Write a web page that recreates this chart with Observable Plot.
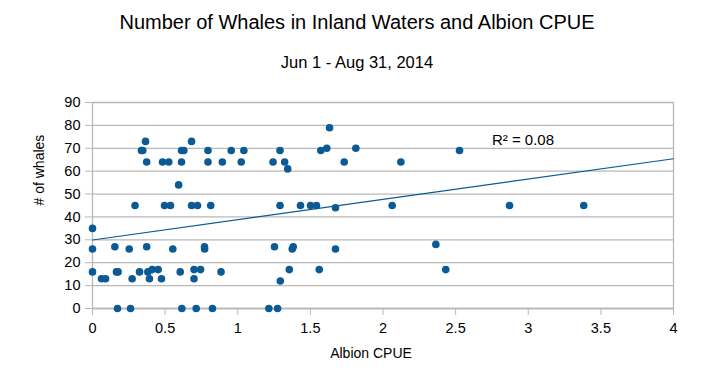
<!DOCTYPE html>
<html><head><meta charset="utf-8">
<script src="https://cdn.jsdelivr.net/npm/d3@7"></script>
<script src="https://cdn.jsdelivr.net/npm/@observablehq/plot@0.6"></script>
<style>
body{margin:0;background:#fff;font-family:"Liberation Sans",Arial,sans-serif;color:#000;}
#wrap{position:relative;width:714px;height:392px;overflow:hidden;}
#head{height:80px;position:relative;}
#title{position:absolute;top:10px;left:0;width:714px;text-align:center;font-size:20px;line-height:24px;}
#sub{position:absolute;top:52px;left:0;width:714px;text-align:center;font-size:16.5px;line-height:20px;}
#chart svg{display:block;}
</style></head>
<body>
<div id="wrap">
  <div id="head"><div id="title"></div><div id="sub"></div></div>
  <div id="chart"></div>
</div>
<script>
const title = "Number of Whales in Inland Waters and Albion CPUE";
const subtitle = "Jun 1 - Aug 31, 2014";
const xLabel = "Albion CPUE";
const yLabel = "# of whales";

const cpue = [0.00,0.00,0.00,0.062,0.09,0.154,0.165,0.176,0.172,0.253,0.262,0.273,0.293,0.324,0.337,0.346,0.365,0.373,0.373,0.381,0.392,0.411,0.452,0.475,0.482,0.496,0.525,0.537,0.553,0.593,0.604,0.613,0.629,0.613,0.615,0.682,0.682,0.699,0.699,0.714,0.723,0.744,0.771,0.772,0.795,0.795,0.814,0.826,0.885,0.894,0.955,1.024,1.042,1.214,1.243,1.253,1.274,1.291,1.291,1.293,1.323,1.344,1.355,1.375,1.382,1.432,1.501,1.542,1.561,1.572,1.613,1.632,1.673,1.673,1.733,1.813,2.063,2.123,2.364,2.432,2.527,2.871,3.382];
const whales = [35,26,16,13,13,27,16,16,0,26,0,13,45,16,69,69,73,64,27,16,13,17,17,13,64,45,64,45,26,54,16,69,69,64,0,73,45,17,13,0,45,17,27,26,69,64,45,0,16,64,69,64,69,0,64,27,0,69,45,12,64,61,17,26,27,45,45,45,17,69,70,79,44,26,64,70,45,64,28,17,69,45,45];

const xTicks = [0,0.5,1,1.5,2,2.5,3,3.5,4];
const yTicks = [0,10,20,30,40,50,60,70,80,90];
const annotation = [{x: 2.75, y: 73.5, text: "R² = 0.08"}];

document.getElementById("title").textContent = title;
document.getElementById("sub").textContent = subtitle;

const data = cpue.map((c, i) => ({cpue: c, whales: whales[i]}));

// least-squares trend line over the axis range
const mx = d3.mean(cpue), my = d3.mean(whales);
const sxy = d3.sum(data, d => (d.cpue - mx) * (d.whales - my));
const sxx = d3.sum(data, d => (d.cpue - mx) ** 2);
const slope = sxy / sxx, intercept = my - slope * mx;
const xExt = [xTicks[0], xTicks[xTicks.length - 1]];
const trend = xExt.map(x => ({cpue: x, whales: intercept + slope * x}));

const blue = "#0b5a94";
const grid = "#b8b8b8";

const chart = Plot.plot({
  width: 714,
  height: 312,
  marginTop: 22,
  marginBottom: 84,
  marginLeft: 92,
  marginRight: 41,
  style: {fontFamily: "'Liberation Sans', Arial, sans-serif", fontSize: "14px", color: "#000", background: "#fff"},
  x: {domain: [0, 4]},
  y: {domain: [0, 90]},
  marks: [
    Plot.gridY(yTicks, {stroke: grid, strokeOpacity: 1, strokeWidth: 1.3}),
    Plot.axisY(yTicks, {tickSize: 7, tickPadding: 5, stroke: grid, fill: "#000", label: null, tickFormat: d => String(d), fontSize: 14.5}),
    Plot.axisX(xTicks, {tickSize: 7, tickPadding: 7, stroke: grid, fill: "#000", label: null, tickFormat: d => String(d), fontSize: 14.5}),
    Plot.ruleX([0, 4], {stroke: grid, strokeWidth: 1.3}),
    Plot.ruleY([0], {stroke: grid, strokeWidth: 1.3}),
    Plot.line(trend, {x: "cpue", y: "whales", stroke: blue, strokeWidth: 1.1}),
    Plot.dot(data, {x: "cpue", y: "whales", r: 3.8, fill: blue, stroke: "none"}),
    Plot.text(annotation, {x: "x", y: "y", text: "text", textAnchor: "start", fontSize: 15, fill: "#000"}),
    Plot.text([xLabel], {frameAnchor: "bottom", dy: 49, dx: -12, fontSize: 14, fill: "#000"}),
    Plot.text([yLabel], {frameAnchor: "left", dx: -53, rotate: -90, fontSize: 14, fill: "#000"})
  ]
});
document.getElementById("chart").appendChild(chart);
</script>
</body></html>
